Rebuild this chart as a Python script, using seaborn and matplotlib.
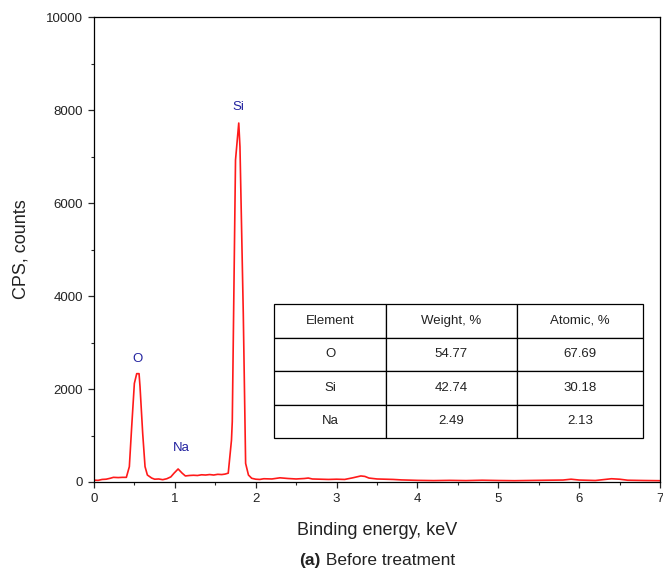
import matplotlib
matplotlib.use("Agg")
import matplotlib.pyplot as plt
import seaborn as sns
import pandas as pd

# EDS spectrum
energy = [0.00, 0.05, 0.10, 0.15, 0.20, 0.24, 0.30, 0.35, 0.40, 0.437, 0.466, 0.499,
          0.528, 0.557, 0.569, 0.602, 0.631, 0.66, 0.713, 0.75, 0.80, 0.85, 0.90, 0.95,
          0.99, 1.04, 1.09, 1.13, 1.18, 1.23, 1.28, 1.33, 1.38, 1.43, 1.48, 1.53, 1.58,
          1.62, 1.66, 1.70, 1.71, 1.75, 1.79, 1.805, 1.846, 1.875, 1.91, 1.95, 2.00,
          2.05, 2.10, 2.20, 2.30, 2.40, 2.50, 2.60, 2.65, 2.70, 2.80, 2.90, 3.00, 3.10,
          3.20, 3.30, 3.35, 3.40, 3.50, 3.60, 3.70, 3.80, 3.90, 4.00, 4.20, 4.40, 4.60,
          4.80, 5.00, 5.20, 5.40, 5.60, 5.80, 5.90, 6.00, 6.20, 6.40, 6.50, 6.60, 6.80, 7.00]
cps = [40, 35, 55, 60, 80, 100, 95, 100, 100, 330, 1190, 2120,
       2330, 2330, 2050, 1047, 330, 150, 85, 60, 65, 50, 70, 110,
       190, 280, 190, 130, 140, 145, 140, 155, 150, 160, 150, 165, 160,
       170, 190, 900, 1300, 6925, 7720, 7210, 3630, 400, 150, 80, 60,
       55, 70, 65, 90, 75, 65, 75, 85, 65, 60, 55, 60, 55,
       90, 130, 120, 85, 65, 60, 55, 45, 40, 35, 30, 35, 30,
       38, 32, 28, 33, 38, 42, 60, 42, 32, 70, 60, 38, 32, 28]

peak_names = ["O", "Na", "Si"]
peak_x = [0.54, 1.085, 1.79]
peak_y = [2645, 731, 8070]

table_cols = ["Element", "Weight, %", "Atomic, %"]
table_rows = [["O", "54.77", "67.69"],
              ["Si", "42.74", "30.18"],
              ["Na", "2.49", "2.13"]]

sns.set_style("ticks")
plt.rcParams['font.family'] = ['Liberation Sans', 'DejaVu Sans']
plt.rcParams['text.color'] = '#222222'
plt.rcParams['xtick.labelcolor'] = '#222222'
plt.rcParams['ytick.labelcolor'] = '#222222'
plt.rcParams['axes.labelcolor'] = '#222222'

fig = plt.figure(figsize=(6.63, 5.81), dpi=100)
ax = fig.add_axes([0.1418, 0.1704, 0.8537, 0.8003])

df = pd.DataFrame({"energy": energy, "cps": cps})
sns.lineplot(data=df, x="energy", y="cps", color="#ff1a1a", linewidth=1.2, ax=ax)

for name, px, py in zip(peak_names, peak_x, peak_y):
    ax.text(px, py, name, color="#2323a0", fontsize=9.5, ha="center", va="center")

ax.set_xlim(0, 7)
ax.set_ylim(0, 10000)
ax.set_xticks(range(0, 8))
ax.set_yticks(range(0, 10001, 2000))
ax.set_xticks([i + 0.5 for i in range(7)], minor=True)
ax.set_yticks(range(1000, 10000, 2000), minor=True)
ax.tick_params(which="major", direction="out", length=4, width=0.9, labelsize=9.5, pad=4)
ax.tick_params(which="minor", direction="out", length=2.5, width=0.8)
for s in ax.spines.values():
    s.set_linewidth(0.9)
    s.set_color("black")

ax.set_xlabel("Binding energy, keV", fontsize=13, labelpad=12)
ax.set_ylabel("CPS, counts", fontsize=13, labelpad=12)

tbl = ax.table(cellText=table_rows, colLabels=table_cols, cellLoc="center",
               bbox=[0.318, 0.0946, 0.652, 0.288],
               colWidths=[0.3035, 0.354, 0.342])
tbl.auto_set_font_size(False)
tbl.set_fontsize(9.5)
for cell in tbl.get_celld().values():
    cell.set_linewidth(0.9)
    cell.set_edgecolor("black")
    cell.set_facecolor("white")
    cell.get_text().set_color("#222222")

# caption: bold "(a)" followed by normal text
fig.canvas.draw()
r = fig.canvas.get_renderer()
t1 = fig.text(0, 0.027, "(a)", fontsize=12.5, fontweight="bold", ha="left", va="baseline")
t2 = fig.text(0, 0.027, " Before treatment", fontsize=12.5, ha="left", va="baseline")
w1 = t1.get_window_extent(r).width
w2 = t2.get_window_extent(r).width
x0 = (377 - (w1 + w2) / 2) / 663
t1.set_x(x0)
t2.set_x(x0 + w1 / 663)

fig.savefig("out.png", dpi=100)
